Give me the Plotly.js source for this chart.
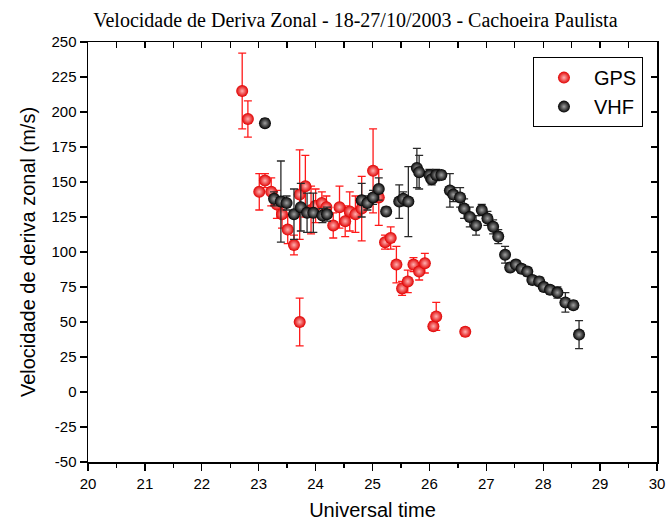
<!DOCTYPE html>
<html>
<head>
<meta charset="utf-8">
<script src="https://cdn.plot.ly/plotly-3.0.1.min.js"></script>
<style>html,body{margin:0;padding:0;background:#fff;}#chart{width:668px;height:529px;}</style>
</head>
<body>
<div id="chart"></div>
<script>
// GPS series
const gpsX = [22.71,22.81,23.01,23.11,23.22,23.32,23.41,23.51,23.62,23.72,23.72,23.82,23.92,24.00,24.11,24.19,24.31,24.42,24.52,24.60,24.70,24.81,25.01,25.11,25.22,25.32,25.42,25.52,25.62,25.72,25.82,25.92,26.07,26.12,26.63];
const gpsY = [215,195,143,151,143,134,127,116,105,50,141,147,130,133,135,132,119,132,122,129,127,131,158,139,107,110,91,74,79,91,86,92,47,54,43];
const gpsErr = [27,13,13,5,10,10,10,10,7,17,32,22,17,12,8,8,9,15,11,14,13,23,30,20,5,8,13,5,8,5,6,7,3,10,3];

// VHF series
const vhfX = [23.11,23.27,23.39,23.49,23.62,23.74,23.85,23.96,24.12,24.20,24.81,24.91,25.01,25.11,25.24,25.47,25.54,25.63,25.78,25.82,26.00,26.04,26.12,26.21,26.36,26.42,26.54,26.61,26.71,26.82,26.92,27.02,27.12,27.21,27.33,27.42,27.52,27.62,27.72,27.81,27.93,28.01,28.12,28.25,28.39,28.53,28.63];
const vhfY = [192,138,136,135,127,132,128,128,126,127,137,135,139,145,129,136,138,136,160,157,155,152,155,155,144,141,139,131,125,119,130,124,118,111,98,89,91,88,86,80,79,75,73,71,64,62,41];
const vhfErr = [3,5,29,5,18,17,14,14,5,5,12,5,5,8,3,12,5,25,14,12,4,4,4,3,12,5,7,7,7,7,4,5,5,5,6,3,3,3,3,3,3,3,3,4,7,3,10];

const xTicks = [20,21,22,23,24,25,26,27,28,29,30];
const yTicks = [-50,-25,0,25,50,75,100,125,150,175,200,225,250];

const traces = [
  {
    x: gpsX, y: gpsY, name: 'GPS', type: 'scatter', mode: 'markers',
    error_y: {type: 'data', array: gpsErr, visible: true, color: '#ff1a1a', thickness: 1.3, width: 4},
    marker: {size: 12, color: '#e00000', line: {width: 0}, gradient: {type: 'radial', color: '#ffb0b0'}}
  },
  {
    x: vhfX, y: vhfY, name: 'VHF', type: 'scatter', mode: 'markers',
    error_y: {type: 'data', array: vhfErr, visible: true, color: '#2a2a2a', thickness: 1.3, width: 4},
    marker: {size: 12, color: '#000000', line: {width: 0}, gradient: {type: 'radial', color: '#a0a0a0'}}
  },
  {x: [null], y: [null], xaxis: 'x2', yaxis: 'y2', showlegend: false, hoverinfo: 'skip', type: 'scatter', mode: 'markers'}
];

const axFont = {family: 'Liberation Sans, Arial, sans-serif', size: 15, color: '#000'};
const labFont = {family: 'Liberation Sans, Arial, sans-serif', size: 20, color: '#000'};

const layout = {
  width: 668, height: 529,
  margin: {l: 88, r: 11, t: 42, b: 67},
  paper_bgcolor: '#fff', plot_bgcolor: '#fff',
  title: {text: 'Velocidade de Deriva Zonal - 18-27/10/2003 - Cachoeira Paulista',
          font: {family: 'Liberation Serif, Times New Roman, serif', size: 20, color: '#000'},
          x: 0.532, xref: 'container', xanchor: 'center', y: 0.962, yref: 'container', yanchor: 'middle'},
  xaxis: {
    range: [20, 30], tickvals: xTicks, ticktext: xTicks.map(String),
    ticks: 'outside', ticklen: 7, tickwidth: 1.3, tickcolor: '#000',
    minor: {dtick: 0.5, ticks: 'outside', ticklen: 4, tickwidth: 1.3, tickcolor: '#000', showgrid: false},
    showline: true, linecolor: '#000', linewidth: 1.5, showgrid: false, zeroline: false,
    tickfont: axFont,
    title: {text: 'Universal time', font: labFont, standoff: 12}
  },
  yaxis: {
    range: [-50, 250], tickvals: yTicks, ticktext: yTicks.map(String),
    ticks: 'outside', ticklen: 7, tickwidth: 1.3, tickcolor: '#000',
    showline: true, linecolor: '#000', linewidth: 1.5, showgrid: false, zeroline: false,
    tickfont: axFont,
    title: {text: 'Velocidade de deriva zonal (m/s)', font: labFont, standoff: 10}
  },
  xaxis2: {
    overlaying: 'x', side: 'top', anchor: 'y2', range: [20, 30], showticklabels: false,
    tickvals: xTicks, ticks: 'inside', ticklen: 6, tickwidth: 1.3, tickcolor: '#000',
    minor: {dtick: 0.5, ticks: 'inside', ticklen: 6, tickwidth: 1.3, tickcolor: '#000', showgrid: false},
    showline: true, linecolor: '#000', linewidth: 1.5, showgrid: false, zeroline: false
  },
  yaxis2: {
    overlaying: 'y', side: 'right', anchor: 'x2', range: [-50, 250], showticklabels: false,
    tickvals: yTicks, ticks: 'inside', ticklen: 6, tickwidth: 1.3, tickcolor: '#000',
    showline: true, linecolor: '#000', linewidth: 1.5, showgrid: false, zeroline: false
  },
  legend: {
    x: 0.782, y: 0.964, xanchor: 'left', yanchor: 'top',
    bgcolor: '#fff', bordercolor: '#000', borderwidth: 1,
    font: {family: 'Liberation Sans, Arial, sans-serif', size: 20, color: '#000'},
    itemsizing: 'constant', itemwidth: 50, tracegroupgap: 2
  },
  showlegend: true
};

Plotly.newPlot('chart', traces, layout, {displayModeBar: false, staticPlot: true});
</script>
</body>
</html>
